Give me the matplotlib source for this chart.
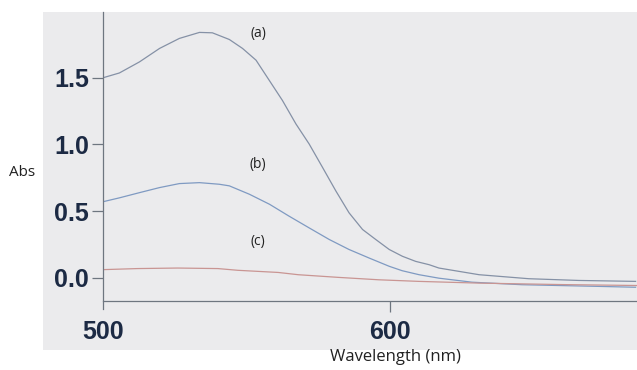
import matplotlib.pyplot as plt
from matplotlib.patches import Rectangle

# curve (a)
wl_a = [500, 505.7, 512.7, 519.7, 526.6, 533.6, 538.1, 544.0, 548.6, 553.3, 557.9, 562.5,
        567.2, 571.8, 576.5, 581.1, 585.7, 590.4, 595.0, 599.7, 604.3, 608.9, 613.6,
        617.0, 631.0, 648.3, 665.7, 685.5]
abs_a = [1.50, 1.536, 1.619, 1.72, 1.795, 1.84, 1.837, 1.787, 1.72, 1.632, 1.481, 1.33,
         1.154, 1.004, 0.827, 0.652, 0.488, 0.363, 0.288, 0.213, 0.162, 0.124, 0.099,
         0.074, 0.024, -0.006, -0.019, -0.026]

# curve (b)
wl_b = [500, 505.7, 512.7, 519.7, 526.6, 533.6, 540.5, 544.0, 551.0, 558.0, 564.8, 571.8,
        578.8, 585.7, 592.7, 599.7, 604.2, 610.1, 617.0, 628.5, 645.9, 673.7, 685.5]
abs_b = [0.571, 0.60, 0.639, 0.677, 0.707, 0.714, 0.702, 0.69, 0.627, 0.552, 0.463, 0.375,
         0.288, 0.213, 0.149, 0.087, 0.054, 0.024, -0.002, -0.032, -0.051, -0.064, -0.07]

# curve (c)
wl_c = [500, 512, 526, 540, 547, 561, 568, 582, 596, 610, 631, 660, 686]
abs_c = [0.062, 0.07, 0.074, 0.07, 0.057, 0.041, 0.024, 0.004, -0.014, -0.026, -0.039,
         -0.05, -0.057]

labels = ["(a)", "(b)", "(c)"]
label_pos = [(554, 1.83), (554, 0.85), (554, 0.27)]
x_ticks = [500, 600]
y_ticks = [0.0, 0.5, 1.0, 1.5]

navy = "#1c2a44"
spine_col = "#6e7680"

fig = plt.figure(figsize=(6.37, 3.70), dpi=100)
fig.patch.set_facecolor("white")
# grey screen panel behind the plot
fig.patches.append(Rectangle((43 / 637, 20 / 370), 594 / 637, 338 / 370,
                             transform=fig.transFigure, facecolor="#ebebed",
                             edgecolor="none", zorder=-5))

ax = fig.add_axes([103 / 637, 61 / 370, 534 / 637, 297 / 370])
ax.set_facecolor("none")
ax.set_zorder(5)

ax.plot(wl_a, abs_a, color="#8591a6", lw=0.9)
ax.plot(wl_b, abs_b, color="#7f9ac2", lw=0.9)
ax.plot(wl_c, abs_c, color="#c99593", lw=0.9)

for lab, (x, y) in zip(labels, label_pos):
    ax.text(x, y, lab, fontsize=10, color="#222222", family="Open Sans",
            ha="center", va="center")

ax.set_xlim(500, 686)
ax.set_ylim(-0.233, 1.993)

for s in ["top", "right"]:
    ax.spines[s].set_visible(False)
ax.spines["bottom"].set_position(("data", -0.173))
ax.spines["left"].set_color(spine_col)
ax.spines["bottom"].set_color(spine_col)
ax.spines["left"].set_linewidth(0.9)
ax.spines["bottom"].set_linewidth(0.9)

ax.set_xticks(x_ticks)
ax.set_yticks(y_ticks)
ax.set_xticklabels([str(t) for t in x_ticks])
ax.set_yticklabels(["%.1f" % t for t in y_ticks])
ax.tick_params(axis="both", direction="out", length=8, width=0.9, color=spine_col,
               labelcolor=navy, labelsize=18, pad=2)
ax.tick_params(axis="x", pad=6)
for t in ax.get_xticklabels() + ax.get_yticklabels():
    t.set_fontweight("bold")
    t.set_family("Liberation Sans")
# no tick mark at 500, the spine runs down there
ax.xaxis.get_major_ticks()[0].tick1line.set_visible(False)

fig.text(22 / 637, 1 - 172 / 370, "Abs", fontsize=11, family="Open Sans",
         color="#222222", ha="center", va="center")
fig.text(395 / 637, 1 - 357 / 370, "Wavelength (nm)", fontsize=12, family="Open Sans",
         color="#222222", ha="center", va="center")

fig.savefig("out.png", dpi=100)
